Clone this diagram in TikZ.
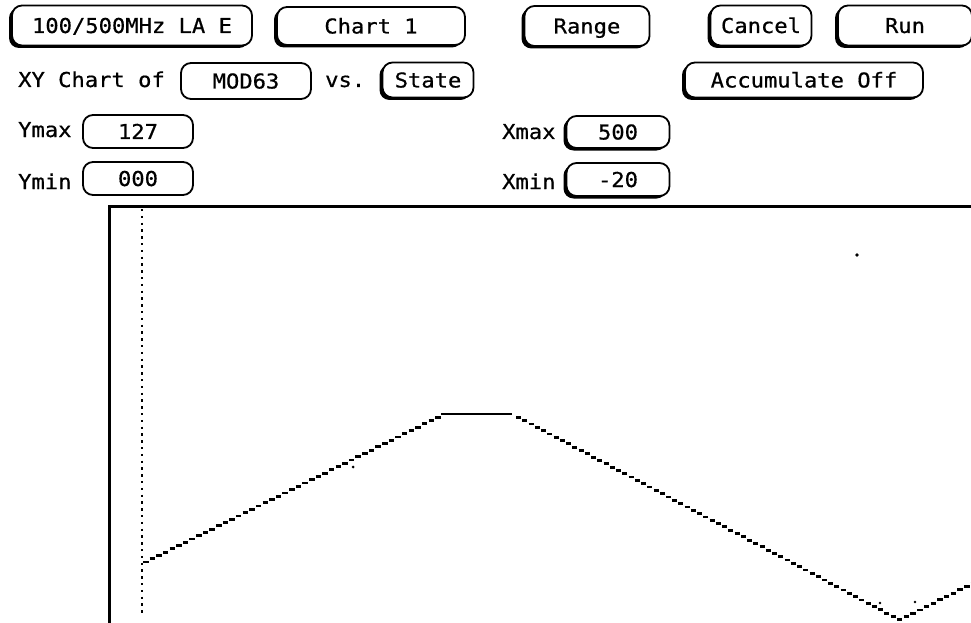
\documentclass[tikz,border=0pt]{standalone}
\usepackage{fontspec}
\newfontfamily\hpfont[FakeStretch=1.08,FakeBold=0.6]{DejaVu Sans Mono}
\usetikzlibrary{shadows}
\tikzset{
  hp/.style={font=\hpfont\fontsize{20.5pt}{24pt}\selectfont},
  btn/.style={hp, draw, line width=1.8pt, fill=white, rounded corners=10pt,
    inner sep=0pt, text height=15pt, text depth=0pt},
  sbtn/.style={btn, general shadow={shadow xshift=-3pt, shadow yshift=-2.5pt,
    fill=black, opacity=1}},
  lbl/.style={hp, anchor=base west, inner sep=0pt},
  frame/.style={line width=3pt},
  dotline/.style={line width=2.6pt, dash pattern=on 2.4pt off 4.4pt},
  stepseg/.style={line width=2.8pt},
  stray/.style={fill=black}
}
\begin{document}
\begin{tikzpicture}[x=1pt,y=-1pt]
\useasboundingbox (0,0) rectangle (971,623);
% top row buttons
\node[sbtn, minimum width=240pt, minimum height=40pt] (la) at (132,25.5) {100/500MHz LA E};
\node[sbtn, minimum width=188pt, minimum height=38pt] (chart) at (371,26) {Chart 1};
\node[sbtn, minimum width=125pt, minimum height=40pt] (range) at (587,26) {Range};
\node[sbtn, minimum width=101pt, minimum height=40pt] (cancel) at (761,25.5) {Cancel};
\node[sbtn, minimum width=134pt, minimum height=40pt] (run) at (905,25.5) {Run};
% second row
\node[lbl] (xy) at (18,87) {XY Chart of};
\node[btn, minimum width=130pt, minimum height=36pt] (mod) at (246,81) {MOD63};
\node[lbl] (vs) at (325,87) {vs.};
\node[sbtn, minimum width=91pt, minimum height=35pt] (state) at (428,80) {State};
\node[sbtn, minimum width=238pt, minimum height=35pt] (acc) at (804,80) {Accumulate Off};
% Y range
\node[lbl] (ymaxl) at (18,137) {Ymax};
\node[btn, minimum width=110pt, minimum height=33pt] (ymax) at (138,131.5) {127};
\node[lbl] (yminl) at (18,189) {Ymin};
\node[btn, minimum width=110pt, minimum height=33pt] (ymin) at (138,178.5) {000};
% X range
\node[lbl] (xmaxl) at (502,139) {Xmax};
\node[sbtn, minimum width=103pt, minimum height=32pt] (xmax) at (618,132) {500};
\node[lbl] (xminl) at (502,189) {Xmin};
\node[sbtn, minimum width=103pt, minimum height=33pt] (xmin) at (618,179.5) {-20};
% plot frame
\draw[frame] (109,625) -- (109,206) -- (975,206);
\draw[dotline] (142,209) -- (142,615);
% curve: rising staircase
\foreach \i in {0,...,44}
  \draw[stepseg] ({143+\i*6.64},{562-\i*3.29}) -- ++(5.5,0);
\draw[stepseg] (441,414) -- (512,414);
\foreach \i in {1,...,62}
  \draw[stepseg] ({510+\i*6.24},{414+\i*3.32}) -- ++(5,0);
\foreach \i in {1,...,11}
  \draw[stepseg] ({897+\i*6.7},{620-\i*3.36}) -- ++(5.5,0);
% stray dots
\fill[stray] (353,467) circle (1.5);
\fill[stray] (857,255) circle (1.8);
\fill[stray] (880,603) circle (1.4);
\fill[stray] (915,602) circle (1.4);
\end{tikzpicture}
\end{document}
